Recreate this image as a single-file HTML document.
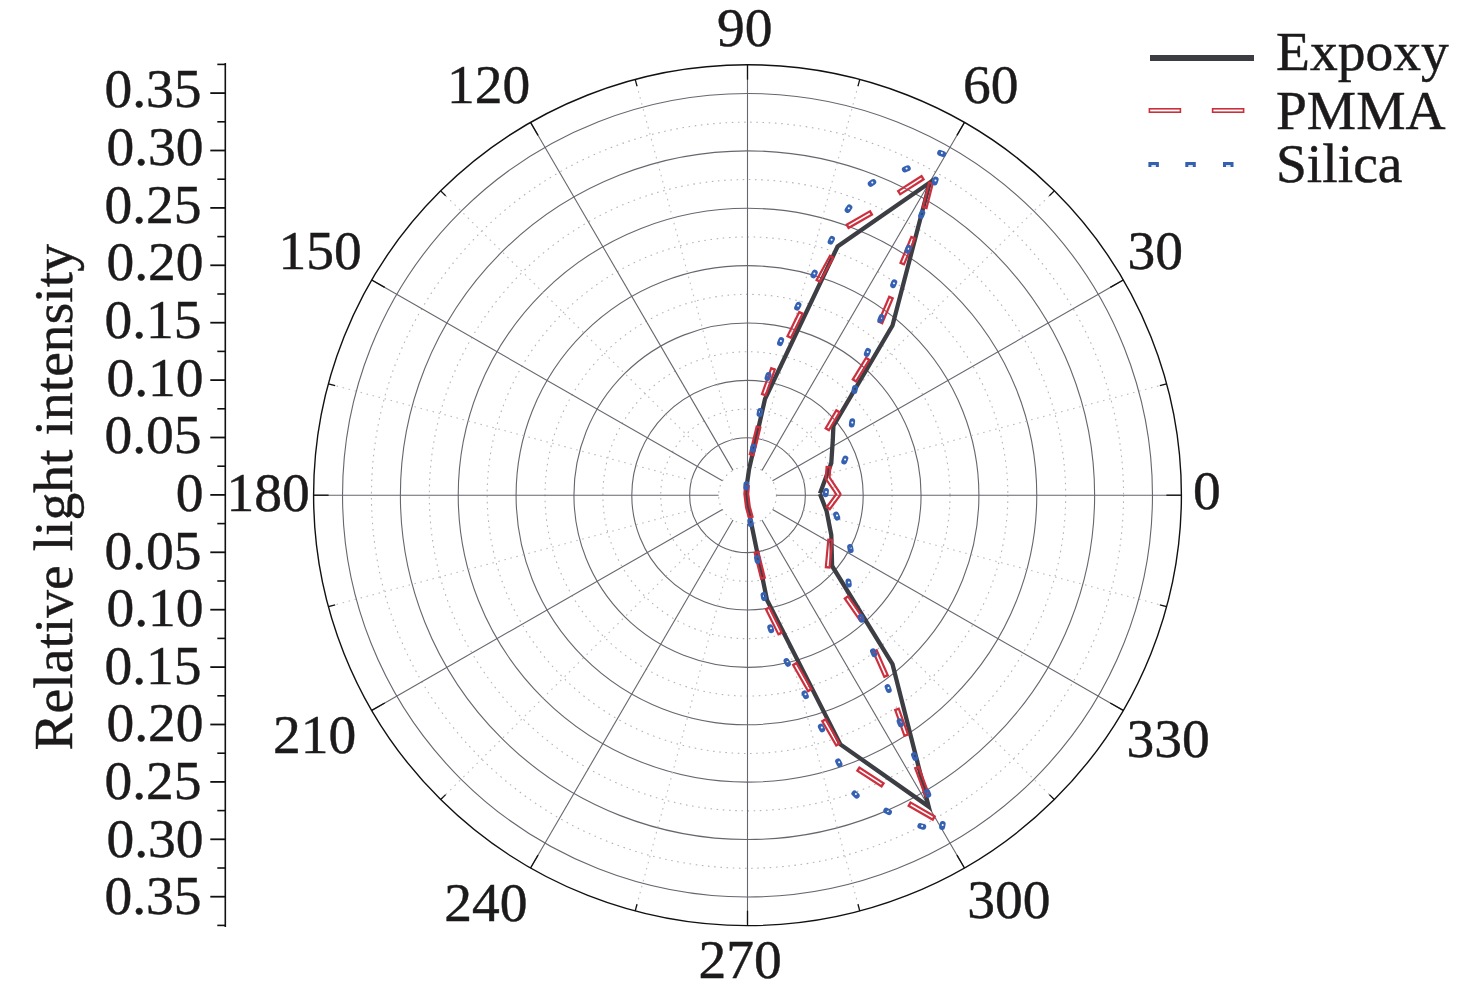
<!DOCTYPE html>
<html><head><meta charset="utf-8"><style>
html,body{margin:0;padding:0;background:#fff;}
svg{display:block;}
text{font-family:"Liberation Serif", serif;font-size:55.5px;fill:#1c1a1b;stroke:#1c1a1b;stroke-width:0.45px;}
</style></head><body>
<svg width="1476" height="996" viewBox="0 0 1476 996">
<rect width="1476" height="996" fill="#fff"/>
<g><ellipse cx="747.5" cy="495.2" rx="28.93" ry="28.70" fill="none" stroke="#b4b4b8" stroke-width="1.1" stroke-dasharray="1.6 4.6"/><ellipse cx="747.5" cy="495.2" rx="86.78" ry="86.09" fill="none" stroke="#b4b4b8" stroke-width="1.1" stroke-dasharray="1.6 4.6"/><ellipse cx="747.5" cy="495.2" rx="144.63" ry="143.48" fill="none" stroke="#b4b4b8" stroke-width="1.1" stroke-dasharray="1.6 4.6"/><ellipse cx="747.5" cy="495.2" rx="202.49" ry="200.87" fill="none" stroke="#b4b4b8" stroke-width="1.1" stroke-dasharray="1.6 4.6"/><ellipse cx="747.5" cy="495.2" rx="260.34" ry="258.26" fill="none" stroke="#b4b4b8" stroke-width="1.1" stroke-dasharray="1.6 4.6"/><ellipse cx="747.5" cy="495.2" rx="318.19" ry="315.65" fill="none" stroke="#b4b4b8" stroke-width="1.1" stroke-dasharray="1.6 4.6"/><ellipse cx="747.5" cy="495.2" rx="376.05" ry="373.04" fill="none" stroke="#b4b4b8" stroke-width="1.1" stroke-dasharray="1.6 4.6"/><ellipse cx="747.5" cy="495.2" rx="57.85" ry="57.39" fill="none" stroke="#66666e" stroke-width="1.1"/><ellipse cx="747.5" cy="495.2" rx="115.71" ry="114.78" fill="none" stroke="#66666e" stroke-width="1.1"/><ellipse cx="747.5" cy="495.2" rx="173.56" ry="172.17" fill="none" stroke="#66666e" stroke-width="1.1"/><ellipse cx="747.5" cy="495.2" rx="231.41" ry="229.56" fill="none" stroke="#66666e" stroke-width="1.1"/><ellipse cx="747.5" cy="495.2" rx="289.27" ry="286.95" fill="none" stroke="#66666e" stroke-width="1.1"/><ellipse cx="747.5" cy="495.2" rx="347.12" ry="344.34" fill="none" stroke="#66666e" stroke-width="1.1"/><ellipse cx="747.5" cy="495.2" rx="404.97" ry="401.73" fill="none" stroke="#66666e" stroke-width="1.1"/><line x1="803.38" y1="480.35" x2="1166.62" y2="383.80" stroke="#bcbcc0" stroke-width="1.1" stroke-dasharray="1.6 4.6"/><line x1="788.41" y1="454.62" x2="1054.31" y2="190.84" stroke="#bcbcc0" stroke-width="1.1" stroke-dasharray="1.6 4.6"/><line x1="762.47" y1="439.77" x2="859.80" y2="79.44" stroke="#bcbcc0" stroke-width="1.1" stroke-dasharray="1.6 4.6"/><line x1="732.53" y1="439.77" x2="635.20" y2="79.44" stroke="#bcbcc0" stroke-width="1.1" stroke-dasharray="1.6 4.6"/><line x1="706.59" y1="454.62" x2="440.69" y2="190.84" stroke="#bcbcc0" stroke-width="1.1" stroke-dasharray="1.6 4.6"/><line x1="691.62" y1="480.35" x2="328.38" y2="383.80" stroke="#bcbcc0" stroke-width="1.1" stroke-dasharray="1.6 4.6"/><line x1="691.62" y1="510.05" x2="328.38" y2="606.60" stroke="#bcbcc0" stroke-width="1.1" stroke-dasharray="1.6 4.6"/><line x1="706.59" y1="535.78" x2="440.69" y2="799.56" stroke="#bcbcc0" stroke-width="1.1" stroke-dasharray="1.6 4.6"/><line x1="732.53" y1="550.63" x2="635.20" y2="910.96" stroke="#bcbcc0" stroke-width="1.1" stroke-dasharray="1.6 4.6"/><line x1="762.47" y1="550.63" x2="859.80" y2="910.96" stroke="#bcbcc0" stroke-width="1.1" stroke-dasharray="1.6 4.6"/><line x1="788.41" y1="535.78" x2="1054.31" y2="799.56" stroke="#bcbcc0" stroke-width="1.1" stroke-dasharray="1.6 4.6"/><line x1="803.38" y1="510.05" x2="1166.62" y2="606.60" stroke="#bcbcc0" stroke-width="1.1" stroke-dasharray="1.6 4.6"/><line x1="776.43" y1="495.20" x2="1181.40" y2="495.20" stroke="#66666e" stroke-width="1.1"/><line x1="772.55" y1="480.85" x2="1123.27" y2="279.99" stroke="#66666e" stroke-width="1.1"/><line x1="761.96" y1="470.35" x2="964.45" y2="122.44" stroke="#66666e" stroke-width="1.1"/><line x1="747.50" y1="466.50" x2="747.50" y2="64.77" stroke="#66666e" stroke-width="1.1"/><line x1="733.04" y1="470.35" x2="530.55" y2="122.44" stroke="#66666e" stroke-width="1.1"/><line x1="722.45" y1="480.85" x2="371.73" y2="279.99" stroke="#66666e" stroke-width="1.1"/><line x1="718.57" y1="495.20" x2="313.60" y2="495.20" stroke="#66666e" stroke-width="1.1"/><line x1="722.45" y1="509.55" x2="371.73" y2="710.41" stroke="#66666e" stroke-width="1.1"/><line x1="733.04" y1="520.05" x2="530.55" y2="867.96" stroke="#66666e" stroke-width="1.1"/><line x1="747.50" y1="523.90" x2="747.50" y2="925.63" stroke="#66666e" stroke-width="1.1"/><line x1="761.96" y1="520.05" x2="964.45" y2="867.96" stroke="#66666e" stroke-width="1.1"/><line x1="772.55" y1="509.55" x2="1123.27" y2="710.41" stroke="#66666e" stroke-width="1.1"/><ellipse cx="747.5" cy="495.2" rx="433.90" ry="430.43" fill="none" stroke="#111" stroke-width="1.4"/><line x1="1181.40" y1="495.20" x2="1166.40" y2="495.20" stroke="#111" stroke-width="1.3"/><line x1="1166.62" y1="383.80" x2="1159.85" y2="385.59" stroke="#111" stroke-width="1.3"/><line x1="1123.27" y1="279.99" x2="1110.28" y2="287.43" stroke="#111" stroke-width="1.3"/><line x1="1054.31" y1="190.84" x2="1049.36" y2="195.75" stroke="#111" stroke-width="1.3"/><line x1="964.45" y1="122.44" x2="956.95" y2="135.32" stroke="#111" stroke-width="1.3"/><line x1="859.80" y1="79.44" x2="857.99" y2="86.15" stroke="#111" stroke-width="1.3"/><line x1="747.50" y1="64.77" x2="747.50" y2="79.65" stroke="#111" stroke-width="1.3"/><line x1="635.20" y1="79.44" x2="637.01" y2="86.15" stroke="#111" stroke-width="1.3"/><line x1="530.55" y1="122.44" x2="538.05" y2="135.32" stroke="#111" stroke-width="1.3"/><line x1="440.69" y1="190.84" x2="445.64" y2="195.75" stroke="#111" stroke-width="1.3"/><line x1="371.73" y1="279.99" x2="384.72" y2="287.43" stroke="#111" stroke-width="1.3"/><line x1="328.38" y1="383.80" x2="335.15" y2="385.59" stroke="#111" stroke-width="1.3"/><line x1="313.60" y1="495.20" x2="328.60" y2="495.20" stroke="#111" stroke-width="1.3"/><line x1="328.38" y1="606.60" x2="335.15" y2="604.81" stroke="#111" stroke-width="1.3"/><line x1="371.73" y1="710.41" x2="384.72" y2="702.97" stroke="#111" stroke-width="1.3"/><line x1="440.69" y1="799.56" x2="445.64" y2="794.65" stroke="#111" stroke-width="1.3"/><line x1="530.55" y1="867.96" x2="538.05" y2="855.08" stroke="#111" stroke-width="1.3"/><line x1="635.20" y1="910.96" x2="637.01" y2="904.25" stroke="#111" stroke-width="1.3"/><line x1="747.50" y1="925.63" x2="747.50" y2="910.75" stroke="#111" stroke-width="1.3"/><line x1="859.80" y1="910.96" x2="857.99" y2="904.25" stroke="#111" stroke-width="1.3"/><line x1="964.45" y1="867.96" x2="956.95" y2="855.08" stroke="#111" stroke-width="1.3"/><line x1="1054.31" y1="799.56" x2="1049.36" y2="794.65" stroke="#111" stroke-width="1.3"/><line x1="1123.27" y1="710.41" x2="1110.28" y2="702.97" stroke="#111" stroke-width="1.3"/><line x1="1166.62" y1="606.60" x2="1159.85" y2="604.81" stroke="#111" stroke-width="1.3"/></g>
<g><line x1="225.3" y1="63" x2="225.3" y2="927" stroke="#111" stroke-width="1.6"/><line x1="210.3" y1="93.10" x2="225.3" y2="93.10" stroke="#111" stroke-width="1.8"/><line x1="210.3" y1="150.50" x2="225.3" y2="150.50" stroke="#111" stroke-width="1.8"/><line x1="210.3" y1="207.90" x2="225.3" y2="207.90" stroke="#111" stroke-width="1.8"/><line x1="210.3" y1="265.30" x2="225.3" y2="265.30" stroke="#111" stroke-width="1.8"/><line x1="210.3" y1="322.70" x2="225.3" y2="322.70" stroke="#111" stroke-width="1.8"/><line x1="210.3" y1="380.10" x2="225.3" y2="380.10" stroke="#111" stroke-width="1.8"/><line x1="210.3" y1="437.50" x2="225.3" y2="437.50" stroke="#111" stroke-width="1.8"/><line x1="210.3" y1="494.90" x2="225.3" y2="494.90" stroke="#111" stroke-width="1.8"/><line x1="210.3" y1="552.30" x2="225.3" y2="552.30" stroke="#111" stroke-width="1.8"/><line x1="210.3" y1="609.70" x2="225.3" y2="609.70" stroke="#111" stroke-width="1.8"/><line x1="210.3" y1="667.10" x2="225.3" y2="667.10" stroke="#111" stroke-width="1.8"/><line x1="210.3" y1="724.50" x2="225.3" y2="724.50" stroke="#111" stroke-width="1.8"/><line x1="210.3" y1="781.90" x2="225.3" y2="781.90" stroke="#111" stroke-width="1.8"/><line x1="210.3" y1="839.30" x2="225.3" y2="839.30" stroke="#111" stroke-width="1.8"/><line x1="210.3" y1="896.70" x2="225.3" y2="896.70" stroke="#111" stroke-width="1.8"/><line x1="217.3" y1="64.40" x2="225.3" y2="64.40" stroke="#111" stroke-width="1.6"/><line x1="217.3" y1="121.80" x2="225.3" y2="121.80" stroke="#111" stroke-width="1.6"/><line x1="217.3" y1="179.20" x2="225.3" y2="179.20" stroke="#111" stroke-width="1.6"/><line x1="217.3" y1="236.60" x2="225.3" y2="236.60" stroke="#111" stroke-width="1.6"/><line x1="217.3" y1="294.00" x2="225.3" y2="294.00" stroke="#111" stroke-width="1.6"/><line x1="217.3" y1="351.40" x2="225.3" y2="351.40" stroke="#111" stroke-width="1.6"/><line x1="217.3" y1="408.80" x2="225.3" y2="408.80" stroke="#111" stroke-width="1.6"/><line x1="217.3" y1="466.20" x2="225.3" y2="466.20" stroke="#111" stroke-width="1.6"/><line x1="217.3" y1="523.60" x2="225.3" y2="523.60" stroke="#111" stroke-width="1.6"/><line x1="217.3" y1="581.00" x2="225.3" y2="581.00" stroke="#111" stroke-width="1.6"/><line x1="217.3" y1="638.40" x2="225.3" y2="638.40" stroke="#111" stroke-width="1.6"/><line x1="217.3" y1="695.80" x2="225.3" y2="695.80" stroke="#111" stroke-width="1.6"/><line x1="217.3" y1="753.20" x2="225.3" y2="753.20" stroke="#111" stroke-width="1.6"/><line x1="217.3" y1="810.60" x2="225.3" y2="810.60" stroke="#111" stroke-width="1.6"/><line x1="217.3" y1="868.00" x2="225.3" y2="868.00" stroke="#111" stroke-width="1.6"/><line x1="217.3" y1="925.40" x2="225.3" y2="925.40" stroke="#111" stroke-width="1.6"/><text x="201.5" y="107.4" text-anchor="end">0.35</text><text x="203.5" y="165.0" text-anchor="end">0.30</text><text x="201.5" y="222.7" text-anchor="end">0.25</text><text x="203.5" y="280.3" text-anchor="end">0.20</text><text x="201.5" y="337.9" text-anchor="end">0.15</text><text x="203.5" y="395.6" text-anchor="end">0.10</text><text x="201.5" y="453.2" text-anchor="end">0.05</text><text x="203.5" y="510.9" text-anchor="end">0</text><text x="201.5" y="568.5" text-anchor="end">0.05</text><text x="203.5" y="626.1" text-anchor="end">0.10</text><text x="201.5" y="683.8" text-anchor="end">0.15</text><text x="203.5" y="741.4" text-anchor="end">0.20</text><text x="201.5" y="799.0" text-anchor="end">0.25</text><text x="203.5" y="856.7" text-anchor="end">0.30</text><text x="201.5" y="914.3" text-anchor="end">0.35</text></g>
<g><text x="744.8" y="46.4" text-anchor="middle">90</text><text x="990.8" y="103.4" text-anchor="middle">60</text><text x="1155.3" y="269.3" text-anchor="middle">30</text><text x="1206.8" y="509.2" text-anchor="middle">0</text><text x="1168.0" y="757.4" text-anchor="middle">330</text><text x="1008.8" y="918.3" text-anchor="middle">300</text><text x="740.2" y="978.3" text-anchor="middle">270</text><text x="485.9" y="921.2" text-anchor="middle">240</text><text x="314.5" y="753.2" text-anchor="middle">210</text><text x="268.0" y="511.3" text-anchor="middle">180</text><text x="320.1" y="269.4" text-anchor="middle">150</text><text x="488.5" y="103.2" text-anchor="middle">120</text></g>
<g><polyline points="820.0,493.5 827.0,474.6 831.3,463.0 832.8,440.0 833.4,426.0 892.5,325.5 929.8,182.5 837.6,246.5 765.0,399.0 749.0,469.6 746.2,489.6 748.0,507.1 752.0,527.0 767.0,600.0 840.4,744.4 928.7,806.6 892.5,664.1 832.1,566.0 831.3,535.0 826.6,511.0 820.0,494.0" fill="none" stroke="#3d3e44" stroke-width="4.3" stroke-linejoin="miter" stroke-miterlimit="10"/><mask id="pm" maskUnits="userSpaceOnUse" x="0" y="0" width="1476" height="996"><rect width="1476" height="996" fill="#fff"/><g fill="none" stroke="#000" stroke-width="1.6" stroke-linejoin="round"><polyline points="900.2,192.0 921.5,178.4"/><polyline points="848.8,225.6 869.9,213.5"/><polyline points="818.9,279.8 831.0,257.8"/><polyline points="789.7,335.8 800.4,314.0"/><polyline points="764.2,393.5 772.6,370.1"/><polyline points="752.0,453.5 758.2,428.3"/><polyline points="746.8,487.4 746.3,494.0 747.9,507.0 750.4,515.9"/><polyline points="756.8,553.6 762.6,576.9"/><polyline points="768.2,609.5 779.5,632.4"/><polyline points="795.4,665.2 809.1,689.1"/><polyline points="824.5,721.4 837.2,743.3"/><polyline points="859.4,769.8 881.5,784.2"/><polyline points="910.7,804.8 932.6,817.4"/><polyline points="917.4,768.8 926.9,794.3"/><polyline points="897.4,710.5 905.8,734.0"/><polyline points="875.5,652.2 885.5,674.9"/><polyline points="847.1,598.5 860.6,618.0"/><polyline points="827.8,566.1 830.1,541.1"/><polyline points="828.4,468.4 827.6,478.0 838.5,494.2 829.0,507.1"/><polyline points="827.9,428.1 837.3,412.4"/><polyline points="855.1,379.3 867.0,359.8"/><polyline points="880.9,321.3 890.5,298.7"/><polyline points="902.7,262.5 912.6,238.9"/><polyline points="925.0,206.4 930.6,184.3"/></g></mask><g mask="url(#pm)" fill="none" stroke="#cc2f3d" stroke-width="6.0" stroke-linejoin="round" stroke-linecap="butt"><polyline points="898.2,193.3 923.5,177.1"/><polyline points="846.7,226.8 872.0,212.3"/><polyline points="817.7,281.9 832.2,255.7"/><polyline points="788.7,338.0 801.4,311.8"/><polyline points="763.4,395.8 773.4,367.8"/><polyline points="751.4,455.8 758.8,426.0"/><polyline points="747.0,485.0 746.3,494.0 747.9,507.0 751.0,518.2"/><polyline points="756.2,551.3 763.2,579.2"/><polyline points="767.1,607.4 780.6,634.5"/><polyline points="794.2,663.1 810.3,691.2"/><polyline points="823.3,719.3 838.4,745.4"/><polyline points="857.4,768.5 883.5,785.5"/><polyline points="908.6,803.6 934.7,818.6"/><polyline points="916.6,766.5 927.7,796.6"/><polyline points="896.6,708.2 906.6,736.3"/><polyline points="874.5,650.0 886.5,677.1"/><polyline points="845.7,596.5 862.0,620.0"/><polyline points="827.6,568.5 830.3,538.7"/><polyline points="828.6,466.0 827.6,478.0 838.5,494.2 827.6,509.0"/><polyline points="826.7,430.2 838.5,410.3"/><polyline points="853.8,381.3 868.3,357.8"/><polyline points="880.0,323.5 891.4,296.5"/><polyline points="901.8,264.7 913.5,236.7"/><polyline points="924.4,208.7 931.2,182.0"/></g><mask id="sm" maskUnits="userSpaceOnUse" x="0" y="0" width="1476" height="996"><rect width="1476" height="996" fill="#fff"/><g fill="#000"><circle cx="826.1" cy="492.1" r="1.0"/><circle cx="845.1" cy="459.5" r="1.0"/><circle cx="852.3" cy="422.4" r="1.0"/><circle cx="855.0" cy="389.0" r="1.0"/><circle cx="867.7" cy="351.9" r="1.0"/><circle cx="881.2" cy="318.0" r="1.0"/><circle cx="894.0" cy="283.2" r="1.0"/><circle cx="908.4" cy="248.7" r="1.0"/><circle cx="922.0" cy="213.9" r="1.0"/><circle cx="935.5" cy="180.5" r="1.0"/><circle cx="941.9" cy="153.0" r="1.0"/><circle cx="906.6" cy="168.4" r="1.0"/><circle cx="872.3" cy="182.4" r="1.0"/><circle cx="848.8" cy="208.2" r="1.0"/><circle cx="831.6" cy="239.8" r="1.0"/><circle cx="814.4" cy="273.5" r="1.0"/><circle cx="798.1" cy="305.8" r="1.0"/><circle cx="780.9" cy="341.1" r="1.0"/><circle cx="768.3" cy="376.0" r="1.0"/><circle cx="760.1" cy="412.0" r="1.0"/><circle cx="753.4" cy="447.8" r="1.0"/><circle cx="746.6" cy="485.3" r="1.0"/><circle cx="750.7" cy="522.0" r="1.0"/><circle cx="757.6" cy="558.9" r="1.0"/><circle cx="764.1" cy="596.0" r="1.0"/><circle cx="771.0" cy="628.2" r="1.0"/><circle cx="787.5" cy="661.9" r="1.0"/><circle cx="805.5" cy="694.3" r="1.0"/><circle cx="821.8" cy="727.5" r="1.0"/><circle cx="839.1" cy="762.2" r="1.0"/><circle cx="855.9" cy="794.1" r="1.0"/><circle cx="887.9" cy="810.9" r="1.0"/><circle cx="922.1" cy="825.9" r="1.0"/><circle cx="942.7" cy="825.0" r="1.0"/><circle cx="928.0" cy="792.7" r="1.0"/><circle cx="914.9" cy="756.0" r="1.0"/><circle cx="900.5" cy="722.3" r="1.0"/><circle cx="888.5" cy="688.0" r="1.0"/><circle cx="873.9" cy="652.2" r="1.0"/><circle cx="861.6" cy="617.7" r="1.0"/><circle cx="848.9" cy="582.5" r="1.0"/><circle cx="850.7" cy="548.1" r="1.0"/><circle cx="837.0" cy="515.6" r="1.0"/></g></mask><g mask="url(#sm)" stroke="#3561b3" stroke-width="5.9" stroke-linecap="round"><line x1="825.6" y1="494.2" x2="826.0" y2="491.0"/><line x1="844.2" y1="461.5" x2="845.4" y2="458.5"/><line x1="851.8" y1="424.5" x2="852.2" y2="421.3"/><line x1="854.4" y1="391.1" x2="855.0" y2="387.9"/><line x1="866.8" y1="353.9" x2="868.0" y2="350.9"/><line x1="880.3" y1="320.0" x2="881.5" y2="317.0"/><line x1="893.1" y1="285.2" x2="894.3" y2="282.2"/><line x1="907.5" y1="250.7" x2="908.7" y2="247.7"/><line x1="921.1" y1="215.9" x2="922.3" y2="212.9"/><line x1="934.7" y1="182.5" x2="935.7" y2="179.5"/><line x1="943.1" y1="154.1" x2="940.1" y2="152.9"/><line x1="907.8" y1="168.3" x2="904.8" y2="169.5"/><line x1="873.3" y1="182.0" x2="870.7" y2="183.8"/><line x1="849.4" y1="207.4" x2="847.6" y2="210.0"/><line x1="832.0" y1="238.9" x2="830.6" y2="241.7"/><line x1="814.8" y1="272.6" x2="813.4" y2="275.4"/><line x1="798.5" y1="304.9" x2="797.1" y2="307.7"/><line x1="781.2" y1="340.1" x2="780.0" y2="343.1"/><line x1="768.5" y1="375.0" x2="767.5" y2="378.0"/><line x1="760.1" y1="410.9" x2="759.5" y2="414.1"/><line x1="753.4" y1="446.7" x2="752.8" y2="449.9"/><line x1="746.4" y1="484.2" x2="746.2" y2="487.4"/><line x1="750.2" y1="520.9" x2="750.6" y2="524.1"/><line x1="757.0" y1="557.8" x2="757.6" y2="561.0"/><line x1="763.5" y1="594.9" x2="764.1" y2="598.1"/><line x1="770.2" y1="627.2" x2="771.2" y2="630.2"/><line x1="786.5" y1="661.0" x2="787.9" y2="663.8"/><line x1="804.5" y1="693.4" x2="805.9" y2="696.2"/><line x1="820.8" y1="726.6" x2="822.2" y2="729.4"/><line x1="838.1" y1="761.3" x2="839.5" y2="764.1"/><line x1="854.5" y1="793.5" x2="856.7" y2="795.7"/><line x1="886.2" y1="810.7" x2="889.0" y2="812.1"/><line x1="920.3" y1="826.0" x2="923.3" y2="826.8"/><line x1="942.1" y1="827.1" x2="942.7" y2="823.9"/><line x1="928.3" y1="794.7" x2="927.1" y2="791.7"/><line x1="915.2" y1="758.0" x2="914.0" y2="755.0"/><line x1="900.8" y1="724.3" x2="899.6" y2="721.3"/><line x1="888.8" y1="690.0" x2="887.6" y2="687.0"/><line x1="874.2" y1="654.2" x2="873.0" y2="651.2"/><line x1="861.8" y1="619.7" x2="860.8" y2="616.7"/><line x1="848.8" y1="584.6" x2="848.4" y2="581.4"/><line x1="850.7" y1="550.2" x2="850.1" y2="547.0"/><line x1="837.3" y1="517.6" x2="836.1" y2="514.6"/></g></g>
<g><line x1="1150" y1="58" x2="1254" y2="58" stroke="#3c3d42" stroke-width="6"/><rect x="1149.4" y="108.8" width="31" height="3.4" fill="#fff" stroke="#c8303c" stroke-width="1.6"/><rect x="1212.6" y="108.8" width="31" height="3.4" fill="#fff" stroke="#c8303c" stroke-width="1.6"/><rect x="1148.4" y="162.0" width="10.5" height="5" fill="#3560b0"/><rect x="1151.4" y="165.0" width="4.5" height="2" fill="#dfe6f4"/><rect x="1185.3" y="162.0" width="10.5" height="5" fill="#3560b0"/><rect x="1188.3" y="165.0" width="4.5" height="2" fill="#dfe6f4"/><rect x="1223.0" y="162.0" width="10.5" height="5" fill="#3560b0"/><rect x="1226.0" y="165.0" width="4.5" height="2" fill="#dfe6f4"/><text x="1276" y="70">Expoxy</text><text x="1276" y="128.6">PMMA</text><text x="1276" y="182">Silica</text></g>
<text transform="translate(72,750.5) rotate(-90)" x="0" y="0" style="font-size:55.6px">Relative light intensity</text>
</svg>
</body></html>
